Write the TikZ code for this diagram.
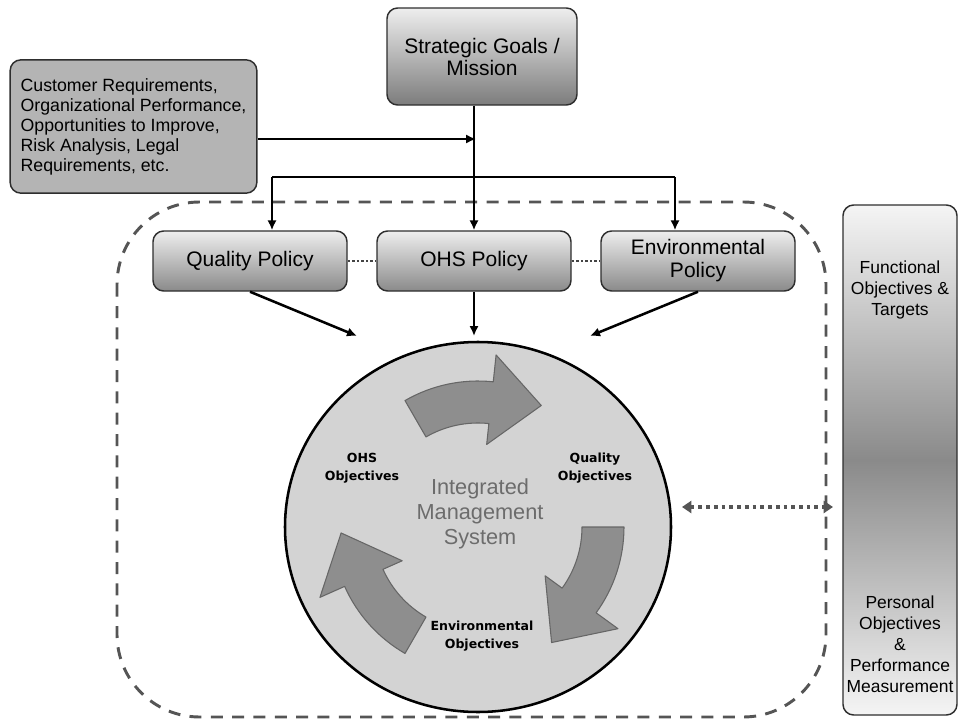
\documentclass[tikz,border=0pt]{standalone}
\usepackage{fontspec}
\setmainfont{Liberation Sans}
\newfontfamily\objfont{DejaVu Sans}
\usetikzlibrary{arrows.meta}
\definecolor{boxline}{HTML}{2E2E2E}
\definecolor{boxtop}{HTML}{EEEEEE}
\definecolor{boxbottom}{HTML}{8A8A8A}
\definecolor{inputgray}{HTML}{B4B4B4}
\definecolor{circlegray}{HTML}{D3D3D3}
\definecolor{cyclegray}{HTML}{8E8E8E}
\definecolor{cycleline}{HTML}{666666}
\definecolor{framegray}{HTML}{555555}
\definecolor{imsgray}{HTML}{6C6C6C}
\def\cyclearrow#1{\draw[cyc] (#1:146) arc (#1:#1+36:146) -- (#1+36:173) -- (#1+57.5:137) -- (#1+36:83) -- (#1+36:104) arc (#1+36:#1:104) -- cycle;}
\tikzset{
  box/.style={draw=boxline, line width=1.1pt, rounded corners=8pt, align=center, inner sep=0pt},
  policy/.style={box, top color=boxtop, bottom color=boxbottom, minimum width=145.5pt, minimum height=45pt,
    font=\fontsize{15.75}{17.3}\selectfont},
  goalbox/.style={policy, minimum width=142.5pt, minimum height=72.75pt, bottom color=boxbottom!90!black,
    font=\fontsize{15.75}{16.5}\selectfont},
  inputbox/.style={box, fill=inputgray, minimum width=185pt, minimum height=100pt, align=left,
    font=\fontsize{13.3}{15}\selectfont},
  sidebox/.style={box, top color=boxtop!60!white, bottom color=boxtop!60!white, middle color=boxbottom,
    minimum width=85.5pt, minimum height=382.5pt},
  sidetext/.style={align=center, inner sep=0pt, font=\fontsize{13.1}{15.75}\selectfont},
  objtext/.style={align=center, inner sep=0pt, font=\objfont\bfseries\fontsize{9.4}{13.5}\selectfont},
  line/.style={line width=1.9pt},
  conn/.style={line, -{Latex[length=7.5pt,width=7pt]}},
  link/.style={line width=1.8pt, dash pattern=on 1.8pt off 1.6pt, draw=framegray!80!black},
  twoway/.style={line width=2.6pt, dash pattern=on 2.8pt off 3pt, draw=framegray,
    {Triangle[length=7pt,width=9pt]}-{Triangle[length=7pt,width=9pt]}},
  frame/.style={line width=2.2pt, draw=framegray, dash pattern=on 9pt off 7pt, rounded corners=62pt},
  cyc/.style={fill=cyclegray, draw=cycleline, line width=0.8pt, line join=round}
}
\begin{document}
\begin{tikzpicture}[x=0.75pt,y=-0.75pt]
\useasboundingbox (0,0) rectangle (958,721);

% dashed boundary
\draw[frame] (117,202) rectangle (826,717);

% boxes
\node[goalbox] (strategic) at (482,56.5) {Strategic Goals /\\Mission};
\node[inputbox] (inputs) at (133.5,126.5) {Customer Requirements,\\Organizational Performance,\\Opportunities to Improve,\\Risk Analysis, Legal\\Requirements, etc.};
\node[policy] (quality) at (250,261) {Quality Policy};
\node[policy] (ohs) at (474,261) {OHS Policy};
\node[policy] (env) at (698,261) {Environmental\\Policy};
\node[sidebox] (side) at (900,460) {};
\node[sidetext] (functional) at (900,290) {Functional\\Objectives \&\\Targets};
\node[sidetext] (personal) at (900,644) {Personal\\Objectives\\\&\\Performance\\Measurement};

% integrated management system
\draw[fill=circlegray, line width=1.9pt] (478,527) ellipse [x radius=193, y radius=185];
\begin{scope}[shift={(478,527)}]
  \cyclearrow{240}
  \cyclearrow{0}
  \cyclearrow{120}
\end{scope}
\node[objtext] (ohsobj) at (362,468) {OHS\\Objectives};
\node[objtext] (qualobj) at (595,468) {Quality\\Objectives};
\node[objtext] (envobj) at (482,636) {Environmental\\Objectives};
\node[align=center, inner sep=0pt, text=imsgray, font=\fontsize{16.3}{18.75}\selectfont] (ims) at (480,514) {Integrated\\Management\\System};

% connectors
\coordinate (merge) at (476,139);
\coordinate (qdrop) at (272,177);
\coordinate (edrop) at (675,177);
\coordinate (qin) at (357,336);
\coordinate (oin) at (474,336);
\coordinate (ein) at (590,336);
\coordinate (imsright) at (682,507);
\coordinate (sideleft) at (833,507);
\draw[line] (ohs.north |- strategic.south) -- (ohs.north |- qdrop);
\draw[conn] (ohs.north |- qdrop) -- (ohs.north);
\draw[conn] (inputs.east |- merge) -- (merge);
\draw[line] (qdrop) -- (edrop);
\draw[conn] (qdrop) -- (qdrop |- quality.north);
\draw[conn] (edrop) -- (edrop |- env.north);
\draw[link] (quality) -- (ohs);
\draw[link] (ohs) -- (env);
\draw[conn] (quality.south) -- (qin);
\draw[conn] (ohs.south) -- (oin);
\draw[conn] (env.south) -- (ein);
\draw[twoway] (imsright) -- (sideleft);
\end{tikzpicture}
\end{document}
